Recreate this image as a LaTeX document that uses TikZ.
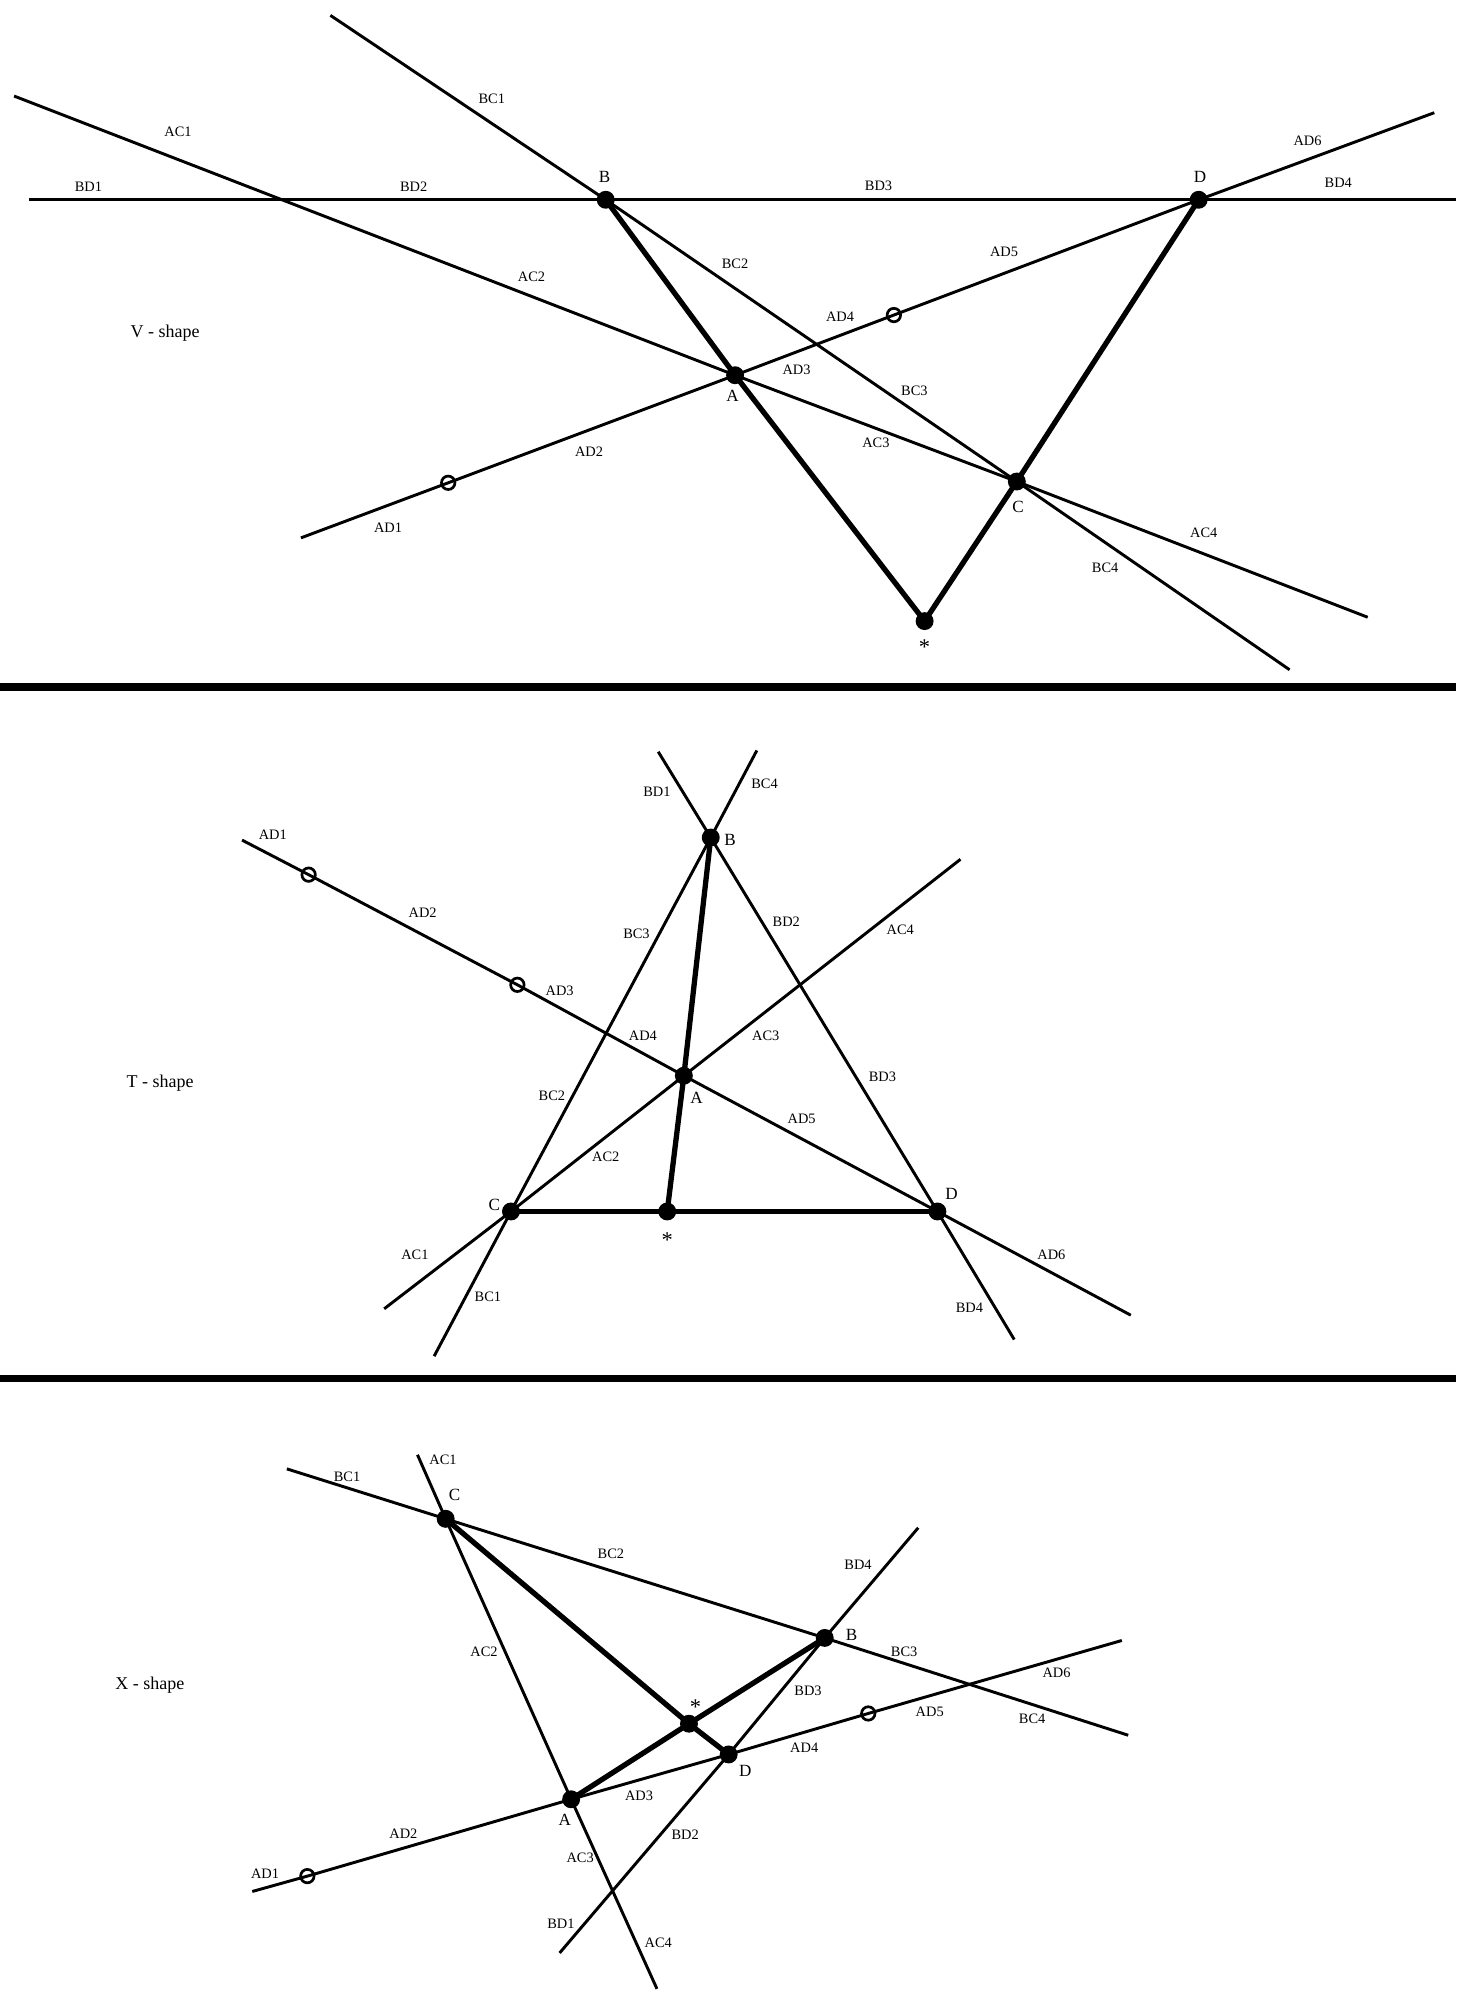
\documentclass[tikz,border=0pt]{standalone}
\usepackage{fontspec}
\setmainfont{Liberation Serif}
\usetikzlibrary{positioning}

\begin{document}
\begin{tikzpicture}[x=0.02cm, y=-0.02cm,
    ray/.style={line width=1.3pt},
    heavy/.style={line width=2.35pt, line join=round},
    divider/.style={line width=3.2pt},
    vdot/.style={circle, fill=black, inner sep=0pt, minimum size=0.28cm},
    ring/.style={circle, draw=black, line width=1.2pt, inner sep=0pt, minimum size=0.21cm},
    seg/.style={font=\fontsize{6.4}{7}\selectfont, inner sep=0pt},
    vtx/.style={font=\fontsize{7.6}{9}\selectfont, inner sep=0pt},
    star/.style={font=\fontsize{10}{11}\selectfont, inner sep=0pt},
    shapename/.style={font=\fontsize{8}{10}\selectfont, inner sep=0pt}
]
    \useasboundingbox (0,0) rectangle (1137,1568);

    % === V - shape ===
    \coordinate (vB) at (473,156);
    \coordinate (vD) at (936,156);
    \coordinate (vA) at (574,293);
    \coordinate (vC) at (794,376);
    \coordinate (vS) at (722,485);
    \coordinate (vbd0) at (23,156);   \coordinate (vbd9) at (1137,156);
    \coordinate (vbc0) at (258,12);   \coordinate (vbc9) at (1007,523);
    \coordinate (vac0) at (11,75);    \coordinate (vac9) at (1068,482);
    \coordinate (vad0) at (235,420);  \coordinate (vad9) at (1120,88);
    \coordinate (vo1) at (350,377);   \coordinate (vo2) at (698,246);

    \draw[ray] (vbd0) -- (vB) -- (vD) -- (vbd9);
    \draw[ray] (vbc0) -- (vB) -- (vC) -- (vbc9);
    \draw[ray] (vac0) -- (vA) -- (vC) -- (vac9);
    \draw[ray] (vad0) -- (vo1) -- (vA) -- (vo2) -- (vD) -- (vad9);
    \draw[heavy] (vB) -- (vA) -- (vS) -- (vC) -- (vD);

    \node[vdot] (vBp) at (vB) {};
    \node[vdot] (vDp) at (vD) {};
    \node[vdot] (vAp) at (vA) {};
    \node[vdot] (vCp) at (vC) {};
    \node[vdot] (vSp) at (vS) {};
    \node[ring] (vO1) at (vo1) {};
    \node[ring] (vO2) at (vo2) {};

    \node[vtx] (vBl) at (472,138) {B};
    \node[vtx] (vDl) at (937,138) {D};
    \node[vtx] (vAl) at (572,309) {A};
    \node[vtx] (vCl) at (795,396) {C};
    \node[star] (vSl) at (722,505) {*};
    \node[shapename] (vname) at (129,260) {V - shape};

    \node[seg] at (384,77) {BC1};
    \node[seg] at (139,103) {AC1};
    \node[seg] at (69,146) {BD1};
    \node[seg] at (323,146) {BD2};
    \node[seg] at (686,145) {BD3};
    \node[seg] at (1045,143) {BD4};
    \node[seg] at (1021,110) {AD6};
    \node[seg] at (415,216) {AC2};
    \node[seg] at (574,206) {BC2};
    \node[seg] at (784,197) {AD5};
    \node[seg] at (656,247) {AD4};
    \node[seg] at (622,289) {AD3};
    \node[seg] at (714,305) {BC3};
    \node[seg] at (684,346) {AC3};
    \node[seg] at (460,353) {AD2};
    \node[seg] at (303,412) {AD1};
    \node[seg] at (940,416) {AC4};
    \node[seg] at (863,443) {BC4};

    \draw[divider] (0,536.5) -- (1137,536.5);

    % === T - shape ===
    \coordinate (tB) at (555,654);
    \coordinate (tA) at (534,840);
    \coordinate (tC) at (399,946);
    \coordinate (tD) at (732,946);
    \coordinate (tS) at (521,946);
    \coordinate (tbd0) at (514,587);  \coordinate (tbd9) at (792,1046);
    \coordinate (tbc0) at (591,586);  \coordinate (tbc9) at (339,1059);
    \coordinate (tac0) at (750,671);  \coordinate (tac9) at (300,1022);
    \coordinate (tad0) at (189,656);  \coordinate (tad9) at (883,1027);
    \coordinate (to1) at (241,683);   \coordinate (to2) at (404,769);

    \draw[ray] (tbd0) -- (tB) -- (tD) -- (tbd9);
    \draw[ray] (tbc0) -- (tB) -- (tC) -- (tbc9);
    \draw[ray] (tac0) -- (tA) -- (tC) -- (tac9);
    \draw[ray] (tad0) -- (to1) -- (to2) -- (tA) -- (tD) -- (tad9);
    \draw[heavy] (tB) -- (tA) -- (tS);
    \draw[heavy] (tC) -- (tS) -- (tD);

    \node[vdot] (tBp) at (tB) {};
    \node[vdot] (tAp) at (tA) {};
    \node[vdot] (tCp) at (tC) {};
    \node[vdot] (tDp) at (tD) {};
    \node[vdot] (tSp) at (tS) {};
    \node[ring] (tO1) at (to1) {};
    \node[ring] (tO2) at (to2) {};

    \node[vtx] (tBl) at (570,656) {B};
    \node[vtx] (tAl) at (544,857) {A};
    \node[vtx] (tCl) at (386,941) {C};
    \node[vtx] (tDl) at (743,932) {D};
    \node[star] (tSl) at (521,968) {*};
    \node[shapename] (tname) at (125,846) {T - shape};

    \node[seg] at (513,618) {BD1};
    \node[seg] at (597,612) {BC4};
    \node[seg] at (213,652) {AD1};
    \node[seg] at (330,713) {AD2};
    \node[seg] at (497,729) {BC3};
    \node[seg] at (614,720) {BD2};
    \node[seg] at (703,726) {AC4};
    \node[seg] at (437,774) {AD3};
    \node[seg] at (502,809) {AD4};
    \node[seg] at (598,809) {AC3};
    \node[seg] at (689,841) {BD3};
    \node[seg] at (431,856) {BC2};
    \node[seg] at (626,874) {AD5};
    \node[seg] at (473,903) {AC2};
    \node[seg] at (324,980) {AC1};
    \node[seg] at (821,980) {AD6};
    \node[seg] at (381,1013) {BC1};
    \node[seg] at (757,1021) {BD4};

    \draw[divider] (0,1076.5) -- (1137,1076.5);

    % === X - shape ===
    \coordinate (xC) at (348,1186);
    \coordinate (xB) at (644,1279);
    \coordinate (xA) at (446,1405);
    \coordinate (xD) at (569,1370);
    \coordinate (xS) at (538,1346);
    \coordinate (xbc0) at (224,1147);  \coordinate (xbc9) at (881,1355);
    \coordinate (xac0) at (326,1136);  \coordinate (xac9) at (513,1553);
    \coordinate (xbd0) at (717,1193);  \coordinate (xbd9) at (437,1525);
    \coordinate (xad0) at (197,1477);  \coordinate (xad9) at (876,1281);
    \coordinate (xo1) at (240,1465);   \coordinate (xo2) at (678,1338);

    \draw[ray] (xbc0) -- (xC) -- (xB) -- (xbc9);
    \draw[ray] (xac0) -- (xC) -- (xA) -- (xac9);
    \draw[ray] (xbd0) -- (xB) -- (xD) -- (xbd9);
    \draw[ray] (xad0) -- (xo1) -- (xA) -- (xD) -- (xo2) -- (xad9);
    \draw[heavy] (xC) -- (xS) -- (xB);
    \draw[heavy] (xA) -- (xS) -- (xD);

    \node[vdot] (xCp) at (xC) {};
    \node[vdot] (xBp) at (xB) {};
    \node[vdot] (xAp) at (xA) {};
    \node[vdot] (xDp) at (xD) {};
    \node[vdot] (xSp) at (xS) {};
    \node[ring] (xO1) at (xo1) {};
    \node[ring] (xO2) at (xo2) {};

    \node[vtx] (xCl) at (355,1167) {C};
    \node[vtx] (xBl) at (665,1277) {B};
    \node[vtx] (xAl) at (441,1421) {A};
    \node[vtx] (xDl) at (582,1383) {D};
    \node[star] (xSl) at (543,1333) {*};
    \node[shapename] (xname) at (117,1316) {X - shape};

    \node[seg] at (346,1140) {AC1};
    \node[seg] at (271,1153) {BC1};
    \node[seg] at (477,1213) {BC2};
    \node[seg] at (670,1222) {BD4};
    \node[seg] at (706,1290) {BC3};
    \node[seg] at (378,1290) {AC2};
    \node[seg] at (825,1306) {AD6};
    \node[seg] at (631,1320) {BD3};
    \node[seg] at (726,1337) {AD5};
    \node[seg] at (806,1342) {BC4};
    \node[seg] at (628,1365) {AD4};
    \node[seg] at (499,1402) {AD3};
    \node[seg] at (315,1432) {AD2};
    \node[seg] at (535,1433) {BD2};
    \node[seg] at (453,1451) {AC3};
    \node[seg] at (207,1463) {AD1};
    \node[seg] at (438,1502) {BD1};
    \node[seg] at (514,1517) {AC4};
\end{tikzpicture}
\end{document}
